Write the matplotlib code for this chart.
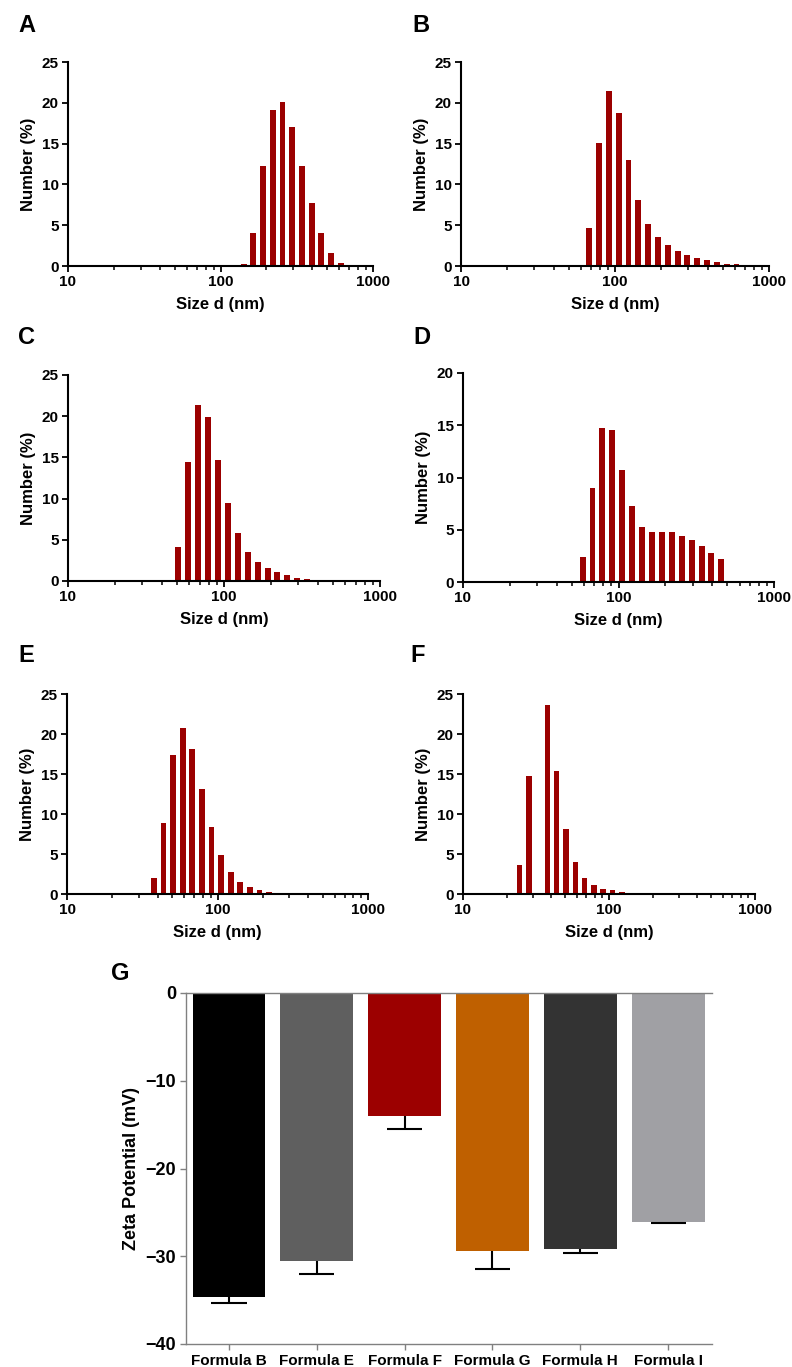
import numpy as np
import matplotlib
matplotlib.use('Agg')
import matplotlib.pyplot as plt

plt.rcParams['font.family'] = ['Liberation Sans', 'DejaVu Sans']
plt.rcParams['font.weight'] = 'bold'
plt.rcParams['axes.labelweight'] = 'bold'

# DLS size bins (nm) and number distributions (%)
sizes_A = [141.8, 164.2, 190.1, 220.2, 255.0, 295.3, 342.0, 396.1, 458.7, 531.2, 615.1]
number_A = [0.3, 4.1, 12.3, 19.1, 20.1, 17.0, 12.2, 7.7, 4.0, 1.6, 0.4]

sizes_B = [68.06, 78.82, 91.28, 105.7, 122.4, 141.8, 164.2, 190.1, 220.2, 255.0,
           295.3, 342.0, 396.1, 458.7, 531.2, 615.1]
number_B = [4.6, 15.1, 21.5, 18.8, 13.0, 8.1, 5.2, 3.6, 2.6, 1.8, 1.3, 1.0, 0.7, 0.5, 0.3, 0.2]

sizes_C = [50.75, 58.77, 68.06, 78.82, 91.28, 105.7, 122.4, 141.8, 164.2, 190.1,
           220.2, 255.0, 295.3, 342.0, 396.1]
number_C = [4.1, 14.4, 21.3, 19.9, 14.7, 9.5, 5.8, 3.5, 2.3, 1.6, 1.1, 0.7, 0.4, 0.25, 0.1]

sizes_D = [58.77, 68.06, 78.82, 91.28, 105.7, 122.4, 141.8, 164.2, 190.1, 220.2,
           255.0, 295.3, 342.0, 396.1, 458.7]
number_D = [2.4, 9.0, 14.7, 14.5, 10.7, 7.3, 5.3, 4.8, 4.8, 4.8, 4.4, 4.0, 3.4, 2.8, 2.2]

sizes_E = [37.84, 43.82, 50.75, 58.77, 68.06, 78.82, 91.28, 105.7, 122.4, 141.8,
           164.2, 190.1, 220.2]
number_E = [2.0, 8.9, 17.4, 20.8, 18.1, 13.1, 8.4, 4.9, 2.8, 1.5, 0.9, 0.5, 0.25]

sizes_F = [24.36, 28.21, 32.67, 37.84, 43.82, 50.75, 58.77, 68.06, 78.82, 91.28,
           105.7, 122.4, 141.8]
number_F = [3.6, 14.8, 0.0, 23.6, 15.4, 8.1, 4.0, 2.0, 1.1, 0.6, 0.45, 0.2, 0.1]

# zeta potential (mean and downward SD)
formulas = ['Formula B', 'Formula E', 'Formula F', 'Formula G', 'Formula H', 'Formula I']
zeta_mean = [-34.7, -30.55, -14.05, -29.4, -29.2, -26.1]
zeta_sd = [0.6, 1.45, 1.4, 2.0, 0.4, 0.08]
zeta_colors = ['#000000', '#5f5f5f', '#9c0000', '#bf6000', '#333333', '#a0a0a4']

bar_red = '#9b0000'
W, H = 792, 1367
fig = plt.figure(figsize=(W / 100, H / 100), dpi=100)


def px_axes(left, top, right, bottom):
    return fig.add_axes([left / W, 1 - bottom / H, (right - left) / W, (bottom - top) / H])


def dls_panel(rect, sizes, number, ymax, letter, letter_xy):
    ax = px_axes(*rect)
    s = np.array(sizes)
    half = 0.0637 * 0.6 / 2          # bar width in decades
    left = s / 10 ** half
    ax.bar(left, number, width=s * 10 ** half - left, align='edge', color=bar_red, linewidth=0)
    ax.set_xscale('log')
    ax.set_xlim(10, 1000)
    ax.set_ylim(0, ymax)
    ax.set_yticks(np.arange(0, ymax + 1, 5))
    ax.set_xticks([10, 100, 1000])
    ax.set_xticklabels(['10', '100', '1000'])
    for sp in ['top', 'right']:
        ax.spines[sp].set_visible(False)
    for sp in ['left', 'bottom']:
        ax.spines[sp].set_linewidth(1.5)
    ax.tick_params(which='major', length=4.5, width=1.3, labelsize=11, pad=2)
    ax.tick_params(which='minor', length=2.8, width=1.1)
    ax.set_ylabel('Number (%)', fontsize=12, labelpad=4)
    ax.set_xlabel('Size d (nm)', fontsize=12, labelpad=6)
    fig.text(letter_xy[0] / W, 1 - letter_xy[1] / H, letter, fontsize=17,
             fontweight='bold', ha='center', va='center')
    return ax


dls_panel((68, 62, 373, 266), sizes_A, number_A, 25, 'A', (27, 25))
dls_panel((461, 62, 769, 266), sizes_B, number_B, 25, 'B', (421, 25))
dls_panel((68, 375, 380, 581), sizes_C, number_C, 25, 'C', (27, 337))
dls_panel((463, 373, 774, 582), sizes_D, number_D, 20, 'D', (422, 337))
dls_panel((67, 694, 368, 894), sizes_E, number_E, 25, 'E', (26, 655))
dls_panel((463, 694, 755, 894), sizes_F, number_F, 25, 'F', (418, 656))

# G: zeta potential
axg = px_axes(186, 993, 712, 1344)
x = np.arange(len(formulas))
axg.bar(x, zeta_mean, width=0.83, color=zeta_colors, linewidth=0, zorder=2)
lower = np.array(zeta_mean) - np.array(zeta_sd)
axg.vlines(x, zeta_mean, lower, color='black', linewidth=1.5, zorder=3)
axg.hlines(lower, x - 0.2, x + 0.2, color='black', linewidth=1.5, zorder=3)
axg.set_xlim(-0.49, 5.5)
axg.set_ylim(-40, 0)
axg.set_yticks([0, -10, -20, -30, -40])
axg.set_xticks(x)
axg.set_xticklabels(formulas, fontsize=11)
axg.spines['right'].set_visible(False)
for sp in ['top', 'left', 'bottom']:
    axg.spines[sp].set_color('#808080')
    axg.spines[sp].set_linewidth(1.0)
axg.tick_params(axis='y', length=4, width=1.0, color='#808080', labelsize=13, pad=3)
axg.tick_params(axis='x', length=4, width=1.0, color='#808080', pad=3)
axg.set_ylabel('Zeta Potential (mV)', fontsize=13, labelpad=4)
fig.text(120 / W, 1 - 973 / H, 'G', fontsize=17, fontweight='bold', ha='center', va='center')

plt.savefig('out.png', dpi=100)
